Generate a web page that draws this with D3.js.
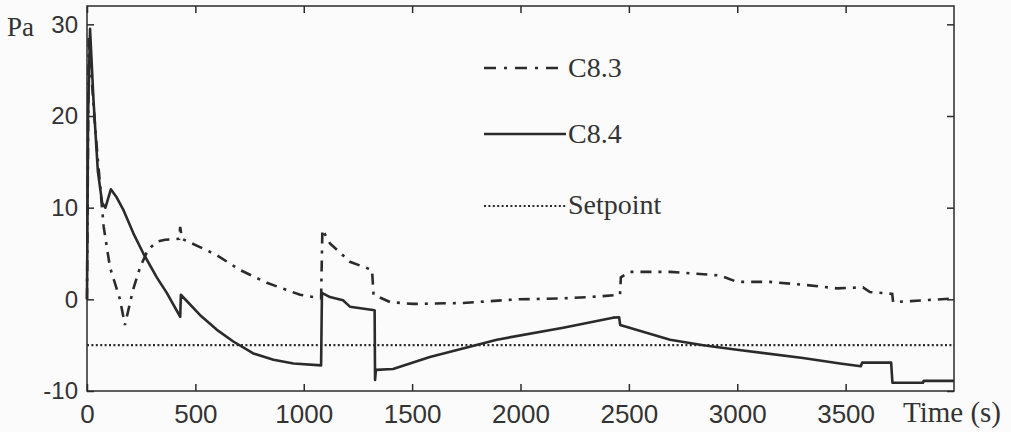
<!DOCTYPE html>
<html>
<head>
<meta charset="utf-8">
<script src="https://cdn.jsdelivr.net/npm/d3@7/dist/d3.min.js"></script>
<style>
  body { margin: 0; background: #fbfbfb; }
</style>
</head>
<body>
<div id="chart"></div>
<script>
// pressure vs time, two controllers + setpoint
var xTicks = [0, 500, 1000, 1500, 2000, 2500, 3000, 3500];
var yTicks = [-10, 0, 10, 20, 30];
var setpoint = -5;

// C8.3 (dash-dot) : [time s, Pa]
var c83 = [
  [0, 0], [8, 28.5], [40, 18], [77, 7.9], [106, 3.5], [152, 0], [175, -2.8],
  [212, 1], [245, 3.5], [281, 5.4], [323, 6.3], [360, 6.5], [425, 6.6],
  [430, 7.9], [438, 6.6], [521, 5.7], [600, 4.8], [706, 3.2], [830, 1.8],
  [983, 0.5], [1080, 0.1], [1086, 7.6], [1121, 6.1], [1213, 4.1], [1315, 3.2],
  [1322, 0.5], [1398, -0.3], [1504, -0.5], [1735, -0.4], [1984, 0], [2196, 0.1],
  [2353, 0.3], [2459, 0.5], [2463, 2.4], [2505, 3.0], [2690, 3.0], [2920, 2.6],
  [2999, 1.9], [3151, 1.9], [3303, 1.6], [3460, 1.2], [3580, 1.3], [3612, 0.8],
  [3715, 0.6], [3719, -0.3], [3800, -0.2], [4000, 0.1]
];

// C8.4 (solid)
var c84 = [
  [0, 0], [5, 20], [14, 29.5], [30, 21.7], [50, 14], [70, 10.5], [85, 10],
  [110, 12], [135, 11.2], [169, 9.7], [214, 7.2], [260, 5.0], [322, 2.4],
  [368, 0.7], [430, -1.9], [433, 0.5], [521, -1.7], [598, -3.3], [675, -4.6],
  [767, -5.9], [860, -6.6], [953, -7.0], [1080, -7.2], [1084, 0.7], [1121, 0.25],
  [1181, -0.1], [1213, -0.8], [1327, -1.2], [1329, -8.8], [1333, -7.7],
  [1412, -7.6], [1582, -6.3], [1891, -4.4], [2197, -3.1], [2427, -2.0],
  [2455, -1.95], [2460, -2.8], [2690, -4.4], [2843, -5.0], [2999, -5.5],
  [3303, -6.4], [3474, -7.0], [3570, -7.3], [3576, -6.9], [3710, -6.9],
  [3716, -9.1], [3857, -9.1], [3860, -8.9], [4000, -8.9]
];

var W = 1011, H = 432;
var m = { left: 87, right: 57, top: 6, bottom: 41 };
var SANS = '"Liberation Sans", Arial, sans-serif';
var SERIF = '"Liberation Serif", "Times New Roman", serif';

var svg = d3.select('#chart').append('svg')
  .attr('width', W)
  .attr('height', H);

var x = d3.scaleLinear().domain([0, 4000]).range([m.left, W - m.right]);
var y = d3.scaleLinear().domain([-10, 32]).range([H - m.bottom, m.top]);

var ink = '#2b2b2b';
var fmt = function(d){ return String(d); }; // plain hyphen, no commas

// axes box with inward ticks on all four sides
svg.append('g')
  .attr('transform', 'translate(0,' + (H - m.bottom) + ')')
  .call(d3.axisBottom(x).tickValues(xTicks).tickFormat(fmt).tickSizeInner(-7).tickSizeOuter(0).tickPadding(14))
  .call(styleAxis)
  .selectAll('text')
    .style('font-family', SANS)
    .style('font-size', '26px');

svg.append('g')
  .attr('transform', 'translate(0,' + m.top + ')')
  .call(d3.axisTop(x).tickValues(xTicks).tickSizeInner(-7).tickSizeOuter(0).tickFormat(''))
  .call(styleAxis);

svg.append('g')
  .attr('transform', 'translate(' + m.left + ',0)')
  .call(d3.axisLeft(y).tickValues(yTicks).tickFormat(fmt).tickSizeInner(-7).tickSizeOuter(0).tickPadding(9))
  .call(styleAxis)
  .selectAll('text')
    .style('font-family', SANS)
    .style('font-size', '24px');

svg.append('g')
  .attr('transform', 'translate(' + (W - m.right) + ',0)')
  .call(d3.axisRight(y).tickValues(yTicks).tickSizeInner(-7).tickSizeOuter(0).tickFormat(''))
  .call(styleAxis);

// box edges
svg.append('rect')
  .attr('x', x(0)).attr('y', y(32))
  .attr('width', x(4000) - x(0)).attr('height', y(-10) - y(32))
  .attr('fill', 'none').attr('stroke', ink).attr('stroke-width', 1.5);

function styleAxis(g){
  g.select('.domain').remove();
  g.selectAll('line').attr('stroke', ink).attr('stroke-width', 1.5);
  g.selectAll('text').attr('fill', '#333');
};

var line = d3.line()
  .x(function(d){ return x(d[0]); })
  .y(function(d){ return y(d[1]); });

// setpoint
svg.append('line')
  .attr('x1', x(0)).attr('x2', x(4000))
  .attr('y1', y(setpoint)).attr('y2', y(setpoint))
  .attr('stroke', ink).attr('stroke-width', 2.2)
  .attr('stroke-dasharray', '2,2.4');

svg.append('path')
  .datum(c83)
  .attr('d', line)
  .attr('fill', 'none')
  .attr('stroke', ink)
  .attr('stroke-width', 2.6)
  .attr('stroke-dasharray', '11,7,3,7');

svg.append('path')
  .datum(c84)
  .attr('d', line)
  .attr('fill', 'none')
  .attr('stroke', ink)
  .attr('stroke-width', 2.6)
  .attr('stroke-linejoin', 'round');

// axis titles
svg.append('text')
  .attr('x', 7).attr('y', 36)
  .attr('fill', '#333')
  .style('font-family', SERIF)
  .style('font-size', '27px')
  .text('Pa');

svg.append('text')
  .attr('x', 903).attr('y', 422)
  .attr('fill', '#333')
  .style('font-family', SERIF)
  .style('font-size', '29px')
  .text('Time (s)');

// legend
var legend = [
  { name: 'C8.3', dash: '12,8,3,8', w: 2.6, ly: 68, ty: 77 },
  { name: 'C8.4', dash: null, w: 2.6, ly: 134, ty: 143 },
  { name: 'Setpoint', dash: '2,2.4', w: 2.2, ly: 206, ty: 214 }
];

var lg = svg.selectAll('.legend')
  .data(legend)
  .enter()
  .append('g')
    .attr('class', 'legend');

lg.append('line')
  .attr('x1', 484).attr('x2', 566)
  .attr('y1', function(d){ return d.ly; })
  .attr('y2', function(d){ return d.ly; })
  .attr('stroke', ink)
  .attr('stroke-width', function(d){ return d.w; })
  .attr('stroke-dasharray', function(d){ return d.dash; });

lg.append('text')
  .attr('x', 568)
  .attr('y', function(d){ return d.ty; })
  .attr('fill', '#333')
  .style('font-family', SERIF)
  .style('font-size', '28px')
  .text(function(d){ return d.name; });
</script>
</body>
</html>
